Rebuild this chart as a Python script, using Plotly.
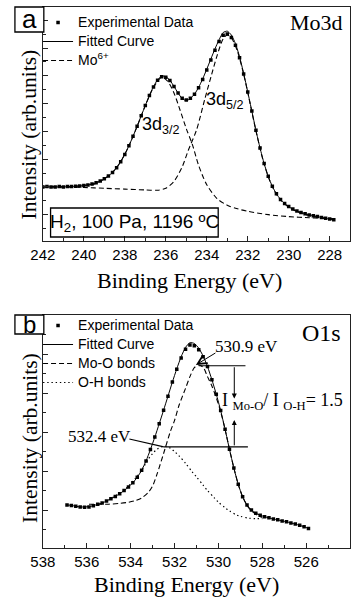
import plotly.graph_objects as go

# ---------------- Panel (a): Mo3d ----------------
a_energy = [242.0, 241.8, 241.6, 241.4, 241.2, 241.0, 240.8, 240.6, 240.4, 240.2,
            240.0, 239.8, 239.6, 239.4, 239.2, 239.0, 238.8, 238.6, 238.4, 238.2,
            238.0, 237.8, 237.6, 237.4, 237.2, 237.0, 236.8, 236.6, 236.4, 236.2,
            236.0, 235.8, 235.6, 235.4, 235.2, 235.0, 234.8, 234.6, 234.4, 234.2,
            234.0, 233.8, 233.6, 233.4, 233.2, 233.0, 232.8, 232.6, 232.4, 232.2,
            232.0, 231.8, 231.6, 231.4, 231.2, 231.0, 230.8, 230.6, 230.4, 230.2,
            230.0, 229.8, 229.6, 229.4, 229.2, 229.0, 228.8, 228.6, 228.4, 228.2,
            228.0, 227.8]
a_exp = [1.00, 1.01, 1.00, 1.00, 1.01, 1.00, 1.01, 1.01, 1.02, 1.03,
         1.05, 1.07, 1.10, 1.15, 1.21, 1.29, 1.39, 1.52, 1.69, 1.91,
         2.17, 2.48, 2.82, 3.18, 3.56, 3.93, 4.29, 4.60, 4.84, 4.97,
         4.95, 4.83, 4.62, 4.38, 4.19, 4.13, 4.19, 4.34, 4.57, 4.87,
         5.21, 5.57, 5.92, 6.24, 6.46, 6.51, 6.38, 6.10, 5.65, 5.07,
         4.42, 3.73, 3.04, 2.40, 1.84, 1.38, 1.02, 0.75, 0.55, 0.40,
         0.29, 0.20, 0.13, 0.08, 0.03, -0.01, -0.04, -0.07, -0.10, -0.13,
         -0.16, -0.18]
a_fit = [1.00, 1.00, 1.00, 1.00, 1.00, 1.00, 1.01, 1.01, 1.02, 1.03,
         1.05, 1.07, 1.10, 1.15, 1.21, 1.29, 1.39, 1.52, 1.69, 1.91,
         2.17, 2.48, 2.82, 3.18, 3.56, 3.93, 4.29, 4.61, 4.86, 4.99,
         4.97, 4.84, 4.62, 4.38, 4.18, 4.11, 4.18, 4.34, 4.58, 4.89,
         5.24, 5.61, 5.97, 6.30, 6.56, 6.61, 6.47, 6.16, 5.69, 5.09,
         4.42, 3.73, 3.04, 2.40, 1.84, 1.38, 1.02, 0.75, 0.55, 0.40,
         0.29, 0.20, 0.13, 0.08, 0.03, -0.01, -0.04, -0.07, -0.10, -0.13,
         -0.16, -0.18]
# Mo 3d3/2 component
a_d32_energy = [242.0, 241.0, 240.0, 239.5, 239.0, 238.6, 238.2, 237.8, 237.4, 237.0,
                236.6, 236.2, 235.9, 235.6, 235.3, 235.0, 234.7, 234.4, 234.0, 233.5,
                233.0, 232.5, 232.0, 231.0, 230.0, 229.0, 228.0, 227.8]
a_d32 = [1.00, 1.00, 1.05, 1.10, 1.29, 1.52, 1.91, 2.48, 3.18, 3.93,
         4.58, 4.95, 4.80, 4.38, 3.76, 3.10, 2.52, 1.78, 1.08, 0.58,
         0.34, 0.21, 0.12, 0.00, -0.07, -0.11, -0.14, -0.15]
# Mo 3d5/2 component
a_d52_energy = [242.0, 241.0, 240.0, 239.0, 238.0, 237.0, 236.4, 236.0, 235.6, 235.2,
                234.9, 234.5, 234.1, 233.8, 233.5, 233.2, 233.0, 232.8, 232.5, 232.2,
                232.0, 231.6, 231.2, 230.8, 230.4, 230.0, 229.5, 229.0, 228.5, 228.0,
                227.8]
a_d52 = [1.02, 1.00, 0.98, 0.95, 0.92, 0.89, 0.88, 0.95, 1.20, 1.72,
         2.32, 3.05, 4.15, 4.95, 5.72, 6.33, 6.47, 6.37, 5.88, 5.06,
         4.40, 3.02, 1.82, 1.00, 0.53, 0.27, 0.08, -0.03, -0.10, -0.15,
         -0.17]

# ---------------- Panel (b): O1s ----------------
b_energy = [536.9, 536.7, 536.5, 536.3, 536.1, 535.9, 535.7, 535.5, 535.3, 535.1,
            534.9, 534.7, 534.5, 534.3, 534.1, 533.9, 533.7, 533.5, 533.3, 533.1,
            532.9, 532.7, 532.5, 532.3, 532.1, 531.9, 531.7, 531.5, 531.3, 531.1,
            530.9, 530.7, 530.5, 530.3, 530.1, 529.9, 529.7, 529.5, 529.3, 529.1,
            528.9, 528.7, 528.5, 528.3, 528.1, 527.9, 527.7, 527.5, 527.3, 527.1,
            526.9, 526.7, 526.5, 526.3, 526.1, 525.9]
b_exp = [0.13, 0.12, 0.10, 0.08, 0.07, 0.08, 0.11, 0.15, 0.18, 0.23,
         0.29, 0.35, 0.42, 0.50, 0.59, 0.70, 0.84, 1.02, 1.26, 1.55,
         1.87, 2.21, 2.56, 2.92, 3.28, 3.61, 3.90, 4.12, 4.23, 4.21,
         4.11, 3.93, 3.68, 3.34, 2.97, 2.55, 2.07, 1.56, 1.08, 0.66,
         0.34, 0.13, 0.00, -0.08, -0.13, -0.17, -0.20, -0.23, -0.25, -0.28,
         -0.30, -0.33, -0.36, -0.39, -0.43, -0.47]
b_fit = [0.13, 0.12, 0.10, 0.08, 0.08, 0.09, 0.11, 0.15, 0.18, 0.23,
         0.29, 0.35, 0.42, 0.50, 0.59, 0.70, 0.84, 1.02, 1.26, 1.55,
         1.87, 2.21, 2.56, 2.92, 3.28, 3.62, 3.93, 4.17, 4.29, 4.27,
         4.15, 3.95, 3.68, 3.34, 2.97, 2.55, 2.07, 1.56, 1.08, 0.66,
         0.34, 0.13, 0.00, -0.08, -0.13, -0.17, -0.20, -0.23, -0.25, -0.28,
         -0.30, -0.33, -0.36, -0.39, -0.43, -0.47]
# Mo-O bonds component
b_moo_energy = [535.9, 535.5, 535.0, 534.5, 534.1, 533.8, 533.5, 533.2, 533.0, 532.8,
                532.5, 532.2, 532.0, 531.8, 531.5, 531.3, 531.1, 530.9, 530.7, 530.5,
                530.3, 530.1, 529.9, 529.7, 529.5, 529.3, 529.1, 528.9, 528.7, 528.5,
                528.2, 528.0]
b_moo = [0.15, 0.15, 0.15, 0.17, 0.20, 0.24, 0.31, 0.45, 0.62, 0.92,
         1.45, 2.00, 2.30, 2.68, 3.12, 3.42, 3.65, 3.72, 3.66, 3.42,
         3.18, 2.88, 2.52, 2.07, 1.56, 1.08, 0.66, 0.34, 0.12, -0.02,
         -0.14, -0.19]
# O-H bonds component
b_oh_energy = [535.0, 534.6, 534.2, 533.8, 533.5, 533.2, 533.0, 532.8, 532.6, 532.4,
               532.2, 532.0, 531.8, 531.5, 531.2, 531.0, 530.7, 530.5, 530.2, 530.0,
               529.7, 529.5, 529.2, 529.0, 528.6, 528.3, 528.0]
b_oh = [0.26, 0.40, 0.56, 0.80, 1.02, 1.30, 1.45, 1.56, 1.62, 1.63,
        1.59, 1.50, 1.39, 1.20, 0.98, 0.85, 0.64, 0.50, 0.32, 0.20,
        0.06, -0.02, -0.12, -0.16, -0.21, -0.22, -0.22]

a_x_range = [242, 227]
b_x_range = [538, 524]

# ---------------- layout helpers ----------------
W, H = 355, 600
SERIF = "Liberation Serif, Times New Roman, serif"
SANS = "Liberation Sans, Arial, sans-serif"
INK = "black"
FRAME = "#222222"


def px(x):
    return x / W


def py(y):
    return 1 - y / H


def lname(t):
    return '<span style="font-size:14px">' + t + '</span>'


DASH = "5px,3px"
DOT = "1.4px,2.8px"

fig = go.Figure()

# Panel a traces
fig.add_trace(go.Scatter(x=a_d32_energy, y=a_d32, mode="lines",
                         line=dict(color=INK, width=1.1, dash=DASH, shape="spline", smoothing=0.8),
                         name=lname("Mo<sup>6+</sup>"), legendgroup="mo", legendrank=3,
                         xaxis="x", yaxis="y", legend="legend"))
fig.add_trace(go.Scatter(x=a_d52_energy, y=a_d52, mode="lines",
                         line=dict(color=INK, width=1.1, dash=DASH, shape="spline", smoothing=0.8),
                         name=lname("Mo<sup>6+</sup>"), legendgroup="mo", showlegend=False,
                         xaxis="x", yaxis="y", legend="legend"))
fig.add_trace(go.Scatter(x=a_energy, y=a_fit, mode="lines",
                         line=dict(color=INK, width=1.0, shape="spline", smoothing=0.6),
                         name=lname("Fitted Curve"), legendrank=2,
                         xaxis="x", yaxis="y", legend="legend"))
fig.add_trace(go.Scatter(x=a_energy, y=a_exp, mode="markers",
                         marker=dict(color=INK, size=3.5, symbol="square"),
                         name=lname("Experimental Data"), legendrank=1,
                         xaxis="x", yaxis="y", legend="legend"))

# Panel b traces
fig.add_trace(go.Scatter(x=b_oh_energy, y=b_oh, mode="lines",
                         line=dict(color=INK, width=1.2, dash=DOT, shape="spline", smoothing=0.8),
                         name=lname("O-H bonds"), legendrank=4,
                         xaxis="x2", yaxis="y2", legend="legend2"))
fig.add_trace(go.Scatter(x=b_moo_energy, y=b_moo, mode="lines",
                         line=dict(color=INK, width=1.1, dash=DASH, shape="spline", smoothing=0.8),
                         name=lname("Mo-O bonds"), legendrank=3,
                         xaxis="x2", yaxis="y2", legend="legend2"))
fig.add_trace(go.Scatter(x=b_energy, y=b_fit, mode="lines",
                         line=dict(color=INK, width=1.0, shape="spline", smoothing=0.6),
                         name=lname("Fitted Curve"), legendrank=2,
                         xaxis="x2", yaxis="y2", legend="legend2"))
fig.add_trace(go.Scatter(x=b_energy, y=b_exp, mode="markers",
                         marker=dict(color=INK, size=3.5, symbol="square"),
                         name=lname("Experimental Data"), legendrank=1,
                         xaxis="x2", yaxis="y2", legend="legend2"))

axis_common = dict(showline=True, linecolor=FRAME, linewidth=1.3, mirror=True,
                   showgrid=False, zeroline=False, ticks="inside", ticklen=5,
                   tickwidth=1, tickcolor=FRAME)
xt = dict(tickfont=dict(family=SANS, size=15, color=INK), dtick=2, tick0=0,
          minor=dict(ticks="inside", ticklen=3, dtick=1, tick0=0, tickcolor=FRAME))
yt = dict(showticklabels=False, dtick=1, tick0=0,
          minor=dict(ticks="inside", ticklen=3, dtick=0.5, tick0=0, tickcolor=FRAME))

legend_common = dict(font=dict(family=SANS, size=11, color=INK), bgcolor="rgba(0,0,0,0)",
                     borderwidth=0, xanchor="left", yanchor="top", itemwidth=30,
                     tracegroupgap=0)

fig.update_layout(
    width=W, height=H,
    margin=dict(l=0, r=0, t=0, b=0),
    paper_bgcolor="white", plot_bgcolor="white",
    xaxis=dict(domain=[px(31), px(350)], range=a_x_range, anchor="y", **axis_common, **xt),
    yaxis=dict(domain=[py(241.3), py(7)], range=[-0.96, 7.48], anchor="x", **axis_common, **yt),
    xaxis2=dict(domain=[px(31), px(350)], range=b_x_range, anchor="y2", **axis_common, **xt),
    yaxis2=dict(domain=[py(548.3), py(315)], range=[-0.98, 5.0], anchor="x2", **axis_common, **yt),
    legend=dict(x=px(26), y=py(8), **legend_common),
    legend2=dict(x=px(26), y=py(311), **legend_common),
    showlegend=True,
)

ann = []
shapes = []


def note(text, x, y, size, family, **kw):
    d = dict(text=text, x=x, y=y, xref="paper", yref="paper", showarrow=False,
             xanchor="center", yanchor="middle", font=dict(family=family, size=size, color=INK))
    d.update(kw)
    ann.append(d)


def arrow(x, y, ax, ay, head, size=1.0):
    ann.append(dict(text="", x=x, y=y, ax=ax, ay=ay, xref="x2", yref="y2",
                    axref="x2", ayref="y2", showarrow=True, arrowhead=head,
                    arrowsize=size, arrowwidth=1, arrowcolor=INK, standoff=0, startstandoff=0))


def seg(x0, y0, x1, y1):
    shapes.append(dict(type="line", xref="x2", yref="y2", x0=x0, x1=x1, y0=y0, y1=y1,
                       line=dict(color=INK, width=1.1)))


# axis titles
note("Intensity (arb.units)", px(17), py(134), 21.5, SERIF, textangle=-90)
note("Binding Energy (eV)", px(183), py(280), 22, SERIF)
note("Intensity (arb.units)", px(17), py(437.5), 21.5, SERIF, textangle=-90)
note("Binding Energy (eV)", px(180), py(584), 22, SERIF)

# panel labels
shapes.append(dict(type="rect", xref="paper", yref="paper", x0=px(2), x1=px(32), y0=py(32), y1=py(7),
                   line=dict(color=INK, width=1.3), fillcolor="white", layer="above"))
note("a", px(17), py(18.5), 26, SANS)
shapes.append(dict(type="rect", xref="paper", yref="paper", x0=px(2), x1=px(32), y0=py(334), y1=py(315),
                   line=dict(color=INK, width=1.3), fillcolor="white", layer="above"))
note("b", px(17), py(324), 24, SANS)

note("Mo3d", px(345), py(22.5), 22, SERIF, xanchor="right")
note("O1s", px(343), py(333), 24, SERIF, xanchor="right")

# panel a labels
note("3d<sub>3/2</sub>", 237.25, 3.2, 18, SANS, xref="x", yref="y", xanchor="left")
note("3d<sub>5/2</sub>", 234.15, 4.1, 18, SANS, xref="x", yref="y", xanchor="left")
shapes.append(dict(type="rect", xref="paper", yref="paper", x0=px(39), x1=px(213), y0=py(237), y1=py(208),
                   line=dict(color=INK, width=1.3), fillcolor="rgba(0,0,0,0)", layer="above"))
note("H<sub>2</sub>, 100 Pa, 1196 ºC", px(126), py(223), 19, SANS)

# panel b annotations
note("530.9 eV", 528.74, 4.19, 17, SERIF, xref="x2", yref="y2")
arrow(531.03, 3.72, 530.07, 4.05, 5, 1.8)
note("532.4 eV", 535.42, 1.88, 17, SERIF, xref="x2", yref="y2")
seg(534.06, 1.82, 532.49, 1.62)
seg(530.9, 3.70, 528.77, 3.70)
seg(532.49, 1.62, 528.66, 1.62)
arrow(529.28, 2.86, 529.28, 3.70, 2)
arrow(529.28, 2.31, 529.28, 1.62, 2)
note("I <sub>Mo-O</sub>/ I <sub>O-H</sub>= 1.5", 529.94, 2.79, 18, SERIF, xref="x2", yref="y2",
     xanchor="left")

fig.update_layout(annotations=ann, shapes=shapes)

fig.write_html("out.html")
